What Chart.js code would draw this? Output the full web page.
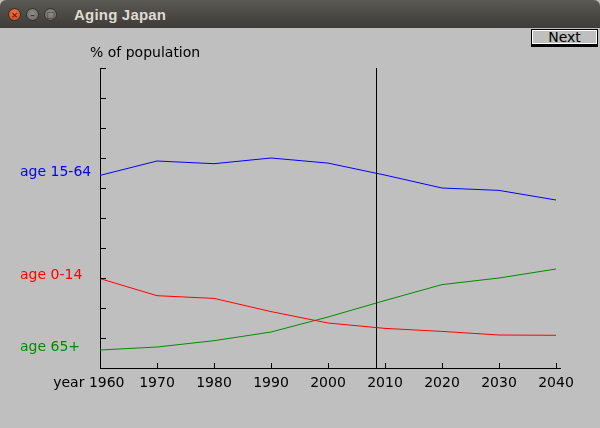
<!DOCTYPE html>
<html>
<head>
<meta charset="utf-8">
<title>Aging Japan</title>
<script src="https://cdn.jsdelivr.net/npm/chart.js@4.4.0/dist/chart.umd.min.js"></script>
<style>
html,body{margin:0;padding:0;width:600px;height:428px;overflow:hidden;background:#bfbfbf;font-family:"DejaVu Sans",sans-serif;}
#titlebar{position:absolute;left:0;top:0;width:600px;height:28px;background:linear-gradient(#5b5954,#3d3c38);border-radius:6px 6px 0 0;}
#title{position:absolute;left:74px;top:6px;font:bold 15px "Liberation Sans",Arial,sans-serif;color:#dfdbd2;letter-spacing:0.2px;}
.wb{position:absolute;top:8px;width:13px;height:13px;border-radius:50%;box-sizing:border-box;font:bold 9px "DejaVu Sans",sans-serif;text-align:center;line-height:12px;color:#3b3a36;}
#bclose{left:8px;background:radial-gradient(circle at 50% 40%,#f4784c,#d44518);border:1px solid #3a2c24;color:#5a2210;}
#bmin{left:26px;background:radial-gradient(circle at 50% 40%,#8e8c86,#6a6863);border:1px solid #34332f;}
#bmax{left:44px;background:radial-gradient(circle at 50% 40%,#8e8c86,#6a6863);border:1px solid #34332f;}
#next{position:absolute;left:531px;top:29px;width:67px;height:16px;box-sizing:border-box;border:1px solid #000;box-shadow:inset 1px 1px 0 #ffffff,inset -1px -1px 0 #ffffff,0 2px 0 #000;font:14px "DejaVu Sans",sans-serif;color:#000;text-align:center;line-height:15px;}
#wrap{position:absolute;left:0;top:28px;width:600px;height:400px;}
</style>
</head>
<body>
<div id="titlebar">
  <div class="wb" id="bclose">×</div>
  <div class="wb" id="bmin">–</div>
  <div class="wb" id="bmax">□</div>
  <div id="title">Aging Japan</div>
</div>
<div id="next">Next</div>
<div id="wrap"><canvas id="c" width="600" height="400"></canvas></div>
<script>
// ---- data ----
const years = [1960, 1970, 1980, 1990, 2000, 2010, 2020, 2030, 2040];
const age0to14 = [29.8, 24.1, 23.2, 18.8, 15.0, 13.2, 12.2, 11.0, 10.9];
const age15to64 = [64.2, 69.0, 68.1, 70.0, 68.3, 64.3, 60.0, 59.2, 56.0];
const age65plus = [6.0, 7.0, 9.1, 12.0, 17.0, 22.5, 27.8, 30.0, 33.0];
const seriesNames = ['age 15-64', 'age 0-14', 'age 65+'];
const seriesColors = ['#0000ff', '#ff0000', '#008c00'];
const xTickValues = [1960, 1970, 1980, 1990, 2000, 2010, 2020, 2030, 2040];
const yTickValues = [10, 20, 30, 40, 50, 60, 70, 80, 90, 100];
const markerYear = 2008.5;
const yTitle = '% of population';
const xFirstLabelPrefix = 'year ';

const seriesValues = [age15to64, age0to14, age65plus];
const toPoints = vals => years.map((yr, i) => ({x: yr, y: vals[i]}));

Chart.defaults.font.family = '"DejaVu Sans", sans-serif';
Chart.defaults.font.size = 14;
Chart.defaults.color = '#000';

const decorations = {
  id: 'decorations',
  afterDraw(chart) {
    const {ctx, chartArea: a, scales: {x, y}} = chart;
    ctx.save();
    ctx.strokeStyle = '#000';
    ctx.lineWidth = 1;
    ctx.beginPath();
    yTickValues.forEach(v => {
      const py = Math.round(y.getPixelForValue(v)) + 0.5;
      ctx.moveTo(a.left, py);
      ctx.lineTo(a.left + 6, py);
    });
    xTickValues.forEach(v => {
      if (v === x.min) return;
      const px = Math.round(x.getPixelForValue(v)) + 0.5;
      ctx.moveTo(px, a.bottom - 5);
      ctx.lineTo(px, a.bottom);
    });
    const mx = Math.floor(x.getPixelForValue(markerYear)) + 0.5;
    ctx.moveTo(mx, a.top);
    ctx.lineTo(mx, a.bottom);
    ctx.stroke();

    ctx.font = '14px "DejaVu Sans", sans-serif';
    ctx.textBaseline = 'alphabetic';
    ctx.textAlign = 'left';
    ctx.fillStyle = '#000';
    ctx.fillText(yTitle, a.left - 10, a.top - 11);
    seriesNames.forEach((name, i) => {
      ctx.fillStyle = seriesColors[i];
      ctx.fillText(name, 20, y.getPixelForValue(seriesValues[i][0]) + 0.5);
    });
    ctx.restore();
  }
};

new Chart(document.getElementById('c'), {
  type: 'line',
  data: {
    datasets: seriesNames.map((name, i) => ({
      label: name,
      data: toPoints(seriesValues[i]),
      borderColor: seriesColors[i],
      borderWidth: 1,
      pointRadius: 0,
      tension: 0,
      fill: false
    }))
  },
  options: {
    responsive: false,
    devicePixelRatio: 1,
    animation: false,
    events: [],
    layout: {padding: {left: 0, right: 40, top: 40, bottom: 0}},
    plugins: {legend: {display: false}, tooltip: {enabled: false}, title: {display: false}},
    scales: {
      x: {
        type: 'linear',
        min: 1960,
        max: 2040.7,
        afterBuildTicks: s => { s.ticks = xTickValues.map(v => ({value: v})); },
        afterFit: s => { s.height = 60; },
        grid: {display: false, drawTicks: false},
        border: {display: true, color: '#000', width: 1},
        ticks: {
          padding: 7,
          maxRotation: 0,
          autoSkip: false,
          color: '#000',
          font: {size: 14},
          callback: v => v === xTickValues[0] ? xFirstLabelPrefix + v + '     ' : String(v)
        }
      },
      y: {
        min: 0,
        max: 100,
        afterFit: s => { s.width = 100; },
        grid: {display: false, drawTicks: false},
        border: {display: true, color: '#000', width: 1},
        ticks: {display: false, stepSize: 10}
      }
    }
  },
  plugins: [decorations]
});
</script>
</body>
</html>
